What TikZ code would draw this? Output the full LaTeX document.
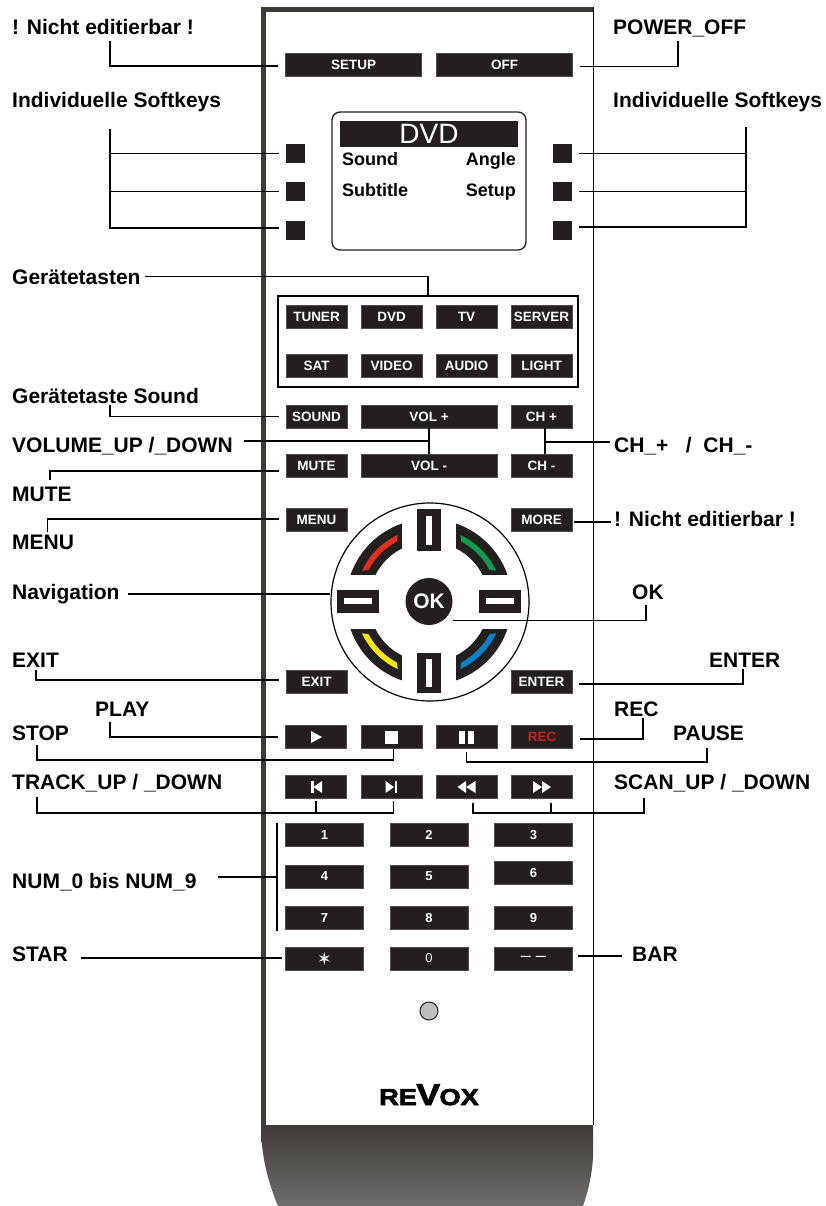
\documentclass[tikz,border=0pt]{standalone}
\usepackage{graphicx}
\usepackage{fontspec}
\setmainfont{Liberation Sans}
\newfontfamily\symfont{DejaVu Sans}
\newfontfamily\logofont{Liberation Sans}[UprightFont=* Bold, FakeBold=3, FakeStretch=1.18]
\usepackage{tikz}
\definecolor{keydark}{HTML}{231F1E}
\definecolor{bodydark}{HTML}{3E3A36}
\definecolor{bodygrey}{HTML}{6E6E6C}
\definecolor{ledgrey}{HTML}{BEBEBE}
\definecolor{recred}{HTML}{C8231E}
\definecolor{segred}{HTML}{E1301E}
\definecolor{seggreen}{HTML}{109A50}
\definecolor{segyellow}{HTML}{FBE600}
\definecolor{segblue}{HTML}{0A82C8}
\newcommand{\navarc}[2]{%
  \begin{scope}[rotate=#1]
    \fill[keydark] (71:83) arc[start angle=71, end angle=19, radius=83] -- (27:60)
      arc[start angle=27, end angle=63, radius=60] -- cycle;
    \fill[#2] (65:74) arc[start angle=65, end angle=25, radius=74] -- (28:68.5)
      arc[start angle=28, end angle=62, radius=68.5] -- cycle;
  \end{scope}}

\begin{document}
\begin{tikzpicture}[
  x=1pt, y=-1pt,
  key/.style={fill=keydark, draw=keydark!80, line width=0.3pt, inner sep=0pt, text=white,
    minimum height=23pt, font=\fontsize{13.5}{15}\selectfont\bfseries},
  smallkey/.style={key, minimum width=61pt},
  widekey/.style={key, minimum width=136pt},
  numkey/.style={key, minimum width=78pt, font=\fontsize{13}{15}\selectfont\bfseries},
  softkey/.style={fill=keydark, inner sep=0pt, minimum width=19pt, minimum height=19pt},
  navbar/.style={fill=keydark, inner sep=0pt},
  navslot/.style={fill=white, inner sep=0pt},
  tag/.style={anchor=base west, inner sep=0pt, font=\fontsize{21}{25}\selectfont\bfseries},
  screentext/.style={inner sep=0pt, font=\fontsize{18}{20}\selectfont\bfseries},
  lead/.style={line width=1.3pt, line join=miter},
  gap/.style={shorten >=7pt}
]
  \useasboundingbox (0,0) rectangle (826,1206);

  % Housing
  \fill[bodydark] (261,7) rectangle (594,12);
  \fill[bodydark] (261,7) rectangle (266,1125);
  \draw[black, line width=0.8pt] (593,7) -- (593,1125);
  \shade[top color=bodydark, bottom color=bodygrey] (261,1125) -- (593,1125) -- (593,1157)
    .. controls (592,1175) and (588,1192) .. (583,1206) -- (278,1206)
    .. controls (268,1182) and (261,1156) .. (261,1125) -- cycle;

  % Top keys
  \node[widekey] (setup) at (353.5,64.5) {SETUP};
  \node[widekey] (off) at (504.5,64.5) {OFF};

  % Softkeys
  \node[softkey] (softa) at (295.5,153.5) {};
  \node[softkey] (softb) at (295.5,191.5) {};
  \node[softkey] (softc) at (295.5,230.5) {};
  \node[softkey] (softd) at (562.5,153.5) {};
  \node[softkey] (softe) at (562.5,191.5) {};
  \node[softkey] (softf) at (562.5,230.5) {};

  % Display
  \node[draw=keydark, line width=1.3pt, rounded corners=8pt, inner sep=0pt, minimum width=194pt, minimum height=138pt] (display) at (429,181) {};
  \node[fill=keydark, inner sep=0pt, minimum width=178pt, minimum height=26pt, text=white, font=\fontsize{28}{30}\selectfont] (dvdbar) at (429,134) {DVD};
  \node[screentext, anchor=base west] (sound) at (342,166) {Sound};
  \node[screentext, anchor=base west] (subtitle) at (342,197) {Subtitle};
  \node[screentext, anchor=base east] (angle) at (516,166) {Angle};
  \node[screentext, anchor=base east] (setupsoft) at (516,197) {Setup};

  % Device keys
  \node[draw=black, line width=1.3pt, inner sep=0pt, minimum width=300pt, minimum height=91pt] (devframe) at (428,341.5) {};
  \node[smallkey] (tuner) at (316.5,317) {TUNER};
  \node[smallkey] (dvd) at (391.5,317) {DVD};
  \node[smallkey] (tv) at (466.5,317) {TV};
  \node[smallkey] (server) at (541.5,317) {SERVER};
  \node[smallkey] (sat) at (316.5,366) {SAT};
  \node[smallkey] (video) at (391.5,366) {VIDEO};
  \node[smallkey] (audio) at (466.5,366) {AUDIO};
  \node[smallkey] (light) at (541.5,366) {LIGHT};

  % Sound, volume, channel
  \node[smallkey] (soundkey) at (316.5,416.5) {SOUND};
  \node[widekey] (volup) at (429,416.5) {VOL +};
  \node[smallkey] (chup) at (541.5,416.5) {CH +};
  \node[smallkey] (mute) at (316.5,465.5) {MUTE};
  \node[widekey] (voldown) at (429,465.5) {VOL -};
  \node[smallkey] (chdown) at (541.5,465.5) {CH -};
  \node[smallkey] (menu) at (316.5,520) {MENU};
  \node[smallkey] (more) at (541.5,520) {MORE};
  \node[smallkey] (exit) at (316.5,681.5) {EXIT};
  \node[smallkey] (enter) at (541.5,681.5) {ENTER};

  % Navigation
  \node[circle, draw=black, line width=1.2pt, inner sep=0pt, minimum size=198pt] (wheel) at (430,602) {};
  \node[circle, fill=keydark, inner sep=0pt, minimum size=47pt, text=white, font=\fontsize{21}{23}\selectfont\bfseries] (ok) at (429,601.5) {OK};
  \node[navbar, minimum width=24pt, minimum height=42pt] (navup) at (429,530) {};
  \node[navslot, minimum width=6pt, minimum height=29pt] (navupslot) at (429,530.5) {};
  \node[navbar, minimum width=24pt, minimum height=40pt] (navdown) at (429,673) {};
  \node[navslot, minimum width=6pt, minimum height=28pt] (navdownslot) at (429,673) {};
  \node[navbar, minimum width=42pt, minimum height=23pt] (navleft) at (358,601.5) {};
  \node[navslot, minimum width=28pt, minimum height=6pt] (navleftslot) at (358,601) {};
  \node[navbar, minimum width=42pt, minimum height=23pt] (navright) at (500,601.5) {};
  \node[navslot, minimum width=28pt, minimum height=6pt] (navrightslot) at (500,601) {};
  \begin{scope}[shift={(429,602)}, x=1pt, y=1pt]
    \navarc{90}{segred}
    \navarc{0}{seggreen}
    \navarc{180}{segyellow}
    \navarc{-90}{segblue}
  \end{scope}

  % Transport keys
  \node[smallkey] (play) at (316,737) {};
  \node[smallkey] (stop) at (391.5,737) {};
  \node[smallkey] (pause) at (466.5,737) {};
  \node[smallkey, text=recred] (rec) at (542,737) {REC};
  \node[smallkey] (trackback) at (316,787) {};
  \node[smallkey] (trackfwd) at (391.5,787) {};
  \node[smallkey] (scanback) at (466.5,787) {};
  \node[smallkey] (scanfwd) at (542,787) {};
  \fill[white] (311,731) -- (322,737) -- (311,743) -- cycle;
  \fill[white] (385,731) rectangle (398,744);
  \fill[white] (459,731) rectangle (465,744);
  \fill[white] (467.5,731) rectangle (474,744);
  \fill[white] (311,781) rectangle (313.5,793);
  \fill[white] (322,781) -- (313.5,787) -- (322,793) -- cycle;
  \fill[white] (385.5,781) -- (394,787) -- (385.5,793) -- cycle;
  \fill[white] (394.5,781) rectangle (397,793);
  \fill[white] (466,781) -- (457.5,787) -- (466,793) -- cycle;
  \fill[white] (475.5,781) -- (466,787) -- (475.5,793) -- cycle;
  \fill[white] (533,781) -- (542,787) -- (533,793) -- cycle;
  \fill[white] (542,781) -- (551,787) -- (542,793) -- cycle;

  % Number keys
  \node[numkey] (one) at (324.5,835) {1};
  \node[numkey] (two) at (429,835) {2};
  \node[numkey] (three) at (533.5,835) {3};
  \node[numkey] (four) at (324.5,876.5) {4};
  \node[numkey] (five) at (429,876.5) {5};
  \node[numkey] (six) at (533.5,873) {6};
  \node[numkey] (seven) at (324.5,918) {7};
  \node[numkey] (eight) at (429,918) {8};
  \node[numkey] (nine) at (533.5,918) {9};
  \node[numkey, font=\fontsize{18}{19}\selectfont\symfont] (star) at (324.5,958.5) {✶};
  \node[numkey, font=\fontsize{13}{15}\selectfont] (zero) at (429,958.5) {0};
  \node[numkey, font=\fontsize{18}{19}\selectfont] (dashes) at (533.5,958.5) {-- --};

  % LED and logo
  \node[circle, fill=ledgrey, draw=keydark, line width=1pt, inner sep=0pt, minimum size=18pt] (led) at (429,1011) {};
  \node[inner sep=0pt, anchor=base] (logo) at (429,1105) {\fontsize{23}{23}\logofont RE\kern-0.5pt{\fontsize{30}{30}\selectfont V}\kern-0.5pt OX};

  % Labels left
  \node[tag] (lnoedit) at (12,35) {! Nicht editierbar !};
  \node[tag] (lsoft) at (12,108) {Individuelle Softkeys};
  \node[tag] (ldevice) at (12,284) {Gerätetasten};
  \node[tag] (lsound) at (12,403) {Gerätetaste Sound};
  \node[tag] (lvolume) at (12,452) {VOLUME\_UP /\_DOWN};
  \node[tag] (lmute) at (12,501) {MUTE};
  \node[tag] (lmenu) at (12,549) {MENU};
  \node[tag] (lnav) at (12,599) {Navigation};
  \node[tag] (lexit) at (12,667) {EXIT};
  \node[tag] (lplay) at (95,716) {PLAY};
  \node[tag] (lstop) at (12,740) {STOP};
  \node[tag] (ltrack) at (12,789) {TRACK\_UP / \_DOWN};
  \node[tag] (lnum) at (12,888) {NUM\_0 bis NUM\_9};
  \node[tag] (lstar) at (12,961) {STAR};

  % Labels right
  \node[tag] (rpower) at (613,35) {POWER\_OFF};
  \node[tag] (rsoft) at (613,108) {Individuelle Softkeys};
  \node[tag] (rch) at (614,452) {CH\_+\ \ \ /\ \ CH\_-};
  \node[tag] (rnoedit) at (614,526) {! Nicht editierbar !};
  \node[tag] (rok) at (632,599) {OK};
  \node[tag] (renter) at (709,667) {ENTER};
  \node[tag] (rrec) at (614,716) {REC};
  \node[tag] (rpause) at (673,740) {PAUSE};
  \node[tag] (rscan) at (614,789) {SCAN\_UP / \_DOWN};
  \node[tag] (rbar) at (632,961) {BAR};

  % Free ends
  \coordinate (setupend) at (110,41);
  \coordinate (softlend) at (110,129);
  \coordinate (offend) at (678,41);
  \coordinate (softrend) at (746,127);
  \coordinate (soundend) at (110,405);
  \coordinate (volend) at (244,441);
  \coordinate (muteend) at (50,480);
  \coordinate (menuend) at (47.5,532);
  \coordinate (navend) at (128,594);
  \coordinate (chend) at (610,442);
  \coordinate (moreend) at (611,522);
  \coordinate (okend) at (646,605);
  \coordinate (exitend) at (36,670);
  \coordinate (enterend) at (743,669);
  \coordinate (playend) at (110,722);
  \coordinate (stopend) at (37,745);
  \coordinate (stopbus) at (37,760);
  \coordinate (recend) at (643,718);
  \coordinate (pauseend) at (707,748);
  \coordinate (pausebus) at (707,762);
  \coordinate (trackend) at (37,797);
  \coordinate (trackbus) at (37,813);
  \coordinate (scanend) at (644,798);
  \coordinate (scanbus) at (644,813);
  \coordinate (numend) at (218,877);
  \coordinate (numbar) at (277,877);
  \coordinate (numtop) at (277,823);
  \coordinate (numbottom) at (277,931);
  \coordinate (starend) at (81,958);
  \coordinate (barend) at (622,956);

  % Connectors left
  \draw[lead, gap] (setupend) |- ([yshift=-1.5pt]setup.west);
  \draw[lead] (softlend) |- ([xshift=-7pt, yshift=2.5pt]softc.west);
  \draw[lead, gap] (softlend |- softa.west) -- (softa.west);
  \draw[lead, gap] (softlend |- softb.west) -- (softb.west);
  \draw[lead] ([xshift=4pt]ldevice.east) -| (devframe.north);
  \draw[lead, gap] (soundend) |- (soundkey.west);
  \draw[lead] (volend) -- (volend -| volup.south);
  \draw[lead] (volup.south) -- (voldown.north);
  \draw[lead, gap] (muteend) |- ([yshift=-5.5pt]mute.west);
  \draw[lead, gap] (menuend) |- ([yshift=1pt]menu.west);
  \draw[lead] (navend) -- (navend -| wheel.west);
  \draw[lead, gap] (exitend) |- ([yshift=1.5pt]exit.west);
  \draw[lead, gap] (playend) |- (play.west);
  \draw[lead] (stopend) -- (stopbus) -| ([xshift=2pt]stop.south);
  \draw[lead, shorten >=2pt] (trackend) -- (trackbus) -| ([xshift=2pt]trackfwd.south);
  \draw[lead, shorten >=2pt] (trackback.south |- trackbus) -- (trackback.south);
  \draw[lead] (numend) -- (numbar);
  \draw[lead] (numtop) -- (numbottom);
  \draw[lead, shorten >=3pt] (starend) -- (starend -| star.west);

  % Connectors right
  \draw[lead, gap] (offend) |- ([yshift=-2pt]off.east);
  \draw[lead] (softrend) |- ([xshift=7pt, yshift=3.5pt]softf.east);
  \draw[lead, gap] (softrend |- softd.east) -- (softd.east);
  \draw[lead, gap] (softrend |- softe.east) -- (softe.east);
  \draw[lead] ([xshift=3.5pt]chup.south) -- ([xshift=3.5pt]chdown.north);
  \draw[lead] (chend) -- ([xshift=3.5pt]chend -| chup.south);
  \draw[lead, shorten >=2pt] (moreend) -- (moreend -| more.east);
  \draw[lead] ([yshift=-19pt]ok.east) -| (okend);
  \draw[lead, gap] (enterend) |- ([yshift=-2.5pt]enter.east);
  \draw[lead, gap] (recend) |- ([yshift=-2pt]rec.east);
  \draw[lead, shorten >=3pt] (pauseend) -- (pausebus) -| (pause.south);
  \draw[lead, shorten >=4pt] (scanend) -- (scanbus) -| ([xshift=6.5pt]scanback.south);
  \draw[lead, shorten >=4pt] ([xshift=9pt]scanbus -| scanfwd.south) -- ([xshift=9pt]scanfwd.south);
  \draw[lead, shorten >=5pt] (barend) -- (barend -| dashes.east);
\end{tikzpicture}
\end{document}
